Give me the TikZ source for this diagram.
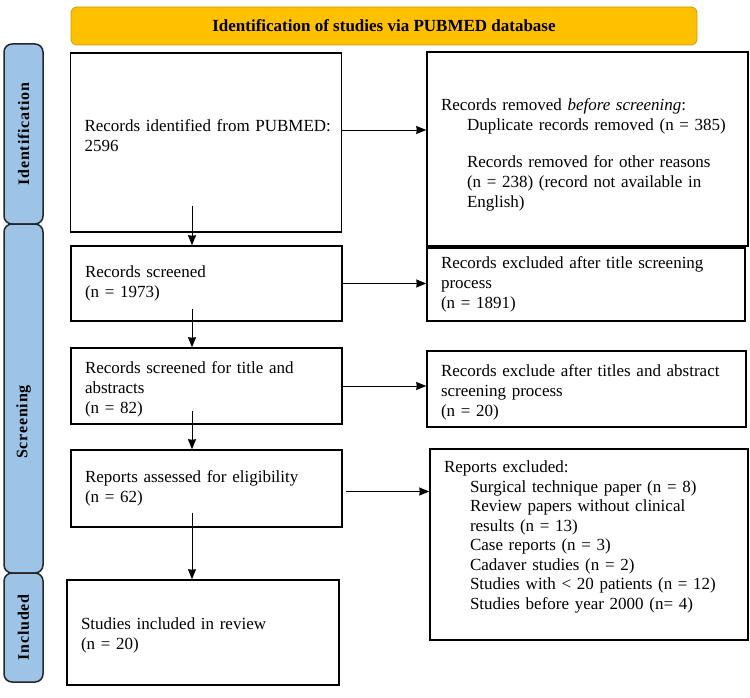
\documentclass[tikz,border=0pt]{standalone}
\usepackage{fontspec}
\setmainfont{Liberation Serif}
\usepackage{tikz}
\usetikzlibrary{arrows.meta}
\usetikzlibrary{positioning,calc}

\definecolor{headorange}{HTML}{FFC000}
\definecolor{headedge}{HTML}{C99A06}
\definecolor{sideblue}{HTML}{9DC3E6}

\tikzset{
  stagebox/.style={draw=black,line width=1.5pt,fill=white,inner xsep=14pt,inner ysep=2pt,
    align=left,font=\fontsize{17pt}{20pt}\selectfont},
  sidebar/.style={draw=black!85,line width=1.5pt,fill=sideblue,rounded corners=8pt},
  sidetext/.style={rotate=90,font=\fontsize{16pt}{18pt}\selectfont\bfseries\addfontfeature{LetterSpace=5}},
  flow/.style={->,>={Stealth[length=10pt,width=8pt,inset=0.5pt]},line width=0.9pt}
}

\begin{document}
\begin{tikzpicture}[x=1pt,y=-1pt]
    \useasboundingbox (0,0) rectangle (750,698);

    % header and side bars
    \node[draw=headedge,line width=0.8pt,fill=headorange,rounded corners=6pt,
      minimum width=626pt,minimum height=38pt,font=\fontsize{17pt}{21pt}\selectfont\bfseries]
      (head) at (384,26) {Identification of studies via PUBMED database};
    \node[sidebar,minimum width=39pt,minimum height=180pt] (barid) at (23.5,134) {};
    \node[sidebar,minimum width=39pt,minimum height=349pt] (barscr) at (23.5,398.5) {};
    \node[sidebar,minimum width=39pt,minimum height=109pt] (barinc) at (23.5,627.5) {};
    \node[sidetext] (labid) at (barid) {Identification};
    \node[sidetext] (labscr) at (23.5,422) {Screening};
    \node[sidetext] (labinc) at (barinc) {Included};

    % left column
    \node[stagebox,text width=243pt,minimum height=179pt] (ident) at (206,142.5)
      {\mbox{Records identified from PUBMED:}\\2596\rule[-14pt]{0pt}{14pt}};
    \node[stagebox,text width=243pt,minimum height=75pt] (screened) at (206.5,283.5)
      {Records screened\\(n = 1973)};
    \node[stagebox,text width=243pt,minimum height=76pt] (titleabs) at (206.5,386)
      {\rule{0pt}{19pt}Records screened for title and\\abstracts\\(n = 82)};
    \node[stagebox,text width=243pt,minimum height=77pt] (assessed) at (206.5,488.5)
      {Reports assessed for eligibility\\(n = 62)};
    \node[stagebox,text width=244pt,minimum height=105pt] (included) at (203,632.5)
      {\rule{0pt}{18pt}Studies included in review\\(n = 20)};

    % right column
    \node[stagebox,text width=293pt,minimum height=194pt] (removed) at (587.5,149)
      {\rule{0pt}{24pt}Records removed \textit{before screening}:\\
       \hspace*{26pt}Duplicate records removed (n = 385)\\[17pt]
       \hspace*{26pt}Records removed for other reasons\\
       \hspace*{26pt}(n = 238) (record not available in\\
       \hspace*{26pt}English)};
    \node[stagebox,text width=290pt,minimum height=73pt] (exclone) at (586,284.5)
      {Records excluded after title screening\\process\\(n = 1891)};
    \node[stagebox,text width=291pt,minimum height=76pt] (excltwo) at (586.5,389)
      {\rule{0pt}{18pt}Records exclude after titles and abstract\\screening process\\(n = 20)};
    \node[stagebox,text width=290pt,minimum height=191pt,font=\fontsize{17pt}{19.5pt}\selectfont]
      (repexcl) at (589,544.5)
      {Reports excluded:\\
       \hspace*{26pt}Surgical technique paper (n = 8)\\
       \hspace*{26pt}Review papers without clinical\\
       \hspace*{26pt}results (n = 13)\\
       \hspace*{26pt}Case reports (n = 3)\\
       \hspace*{26pt}Cadaver studies (n = 2)\\
       \hspace*{26pt}Studies with < 20 patients (n = 12)\\
       \hspace*{26pt}Studies before year 2000 (n= 4)\rule[-19pt]{0pt}{19pt}};

    % arrows
    \coordinate (d1) at (192,206);
    \coordinate (d2) at (192,309);
    \coordinate (d3) at (192,411);
    \coordinate (d4) at (192,513);
    \draw[flow] (d1) -- (d1 |- screened.north);
    \draw[flow] (d2) -- (d2 |- titleabs.north);
    \draw[flow] (d3) -- (d3 |- assessed.north);
    \draw[flow] (d4) -- (d4 |- included.north);

    \draw[flow] ([yshift=12.5pt]ident.east) -- ([yshift=12.5pt]ident.east -| removed.west);
    \draw[flow] (screened.east) -- (screened.east -| exclone.west);
    \draw[flow] (titleabs.east) -- (titleabs.east -| excltwo.west);
    \draw[flow] ([xshift=3pt,yshift=-3pt]assessed.east) -- ([yshift=-3pt]assessed.east -| repexcl.west);

    % \draw[flow] (ident.south) -- (screened.north);
\end{tikzpicture}
\end{document}
